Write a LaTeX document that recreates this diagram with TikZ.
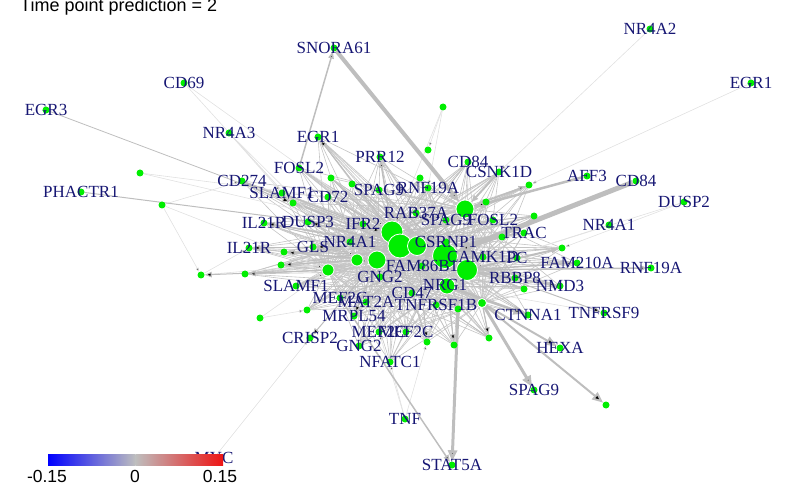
\documentclass[tikz,border=0pt]{standalone}
\usepackage{fontspec}
\setmainfont{Liberation Serif}
\setsansfont{Liberation Sans}
\usetikzlibrary{arrows.meta}
\pgfdeclarelayer{background}
\pgfsetlayers{background,main}
\definecolor{vgreen}{RGB}{0,238,0}
\definecolor{labnavy}{RGB}{22,22,115}
\definecolor{edgegray}{RGB}{190,190,190}
\definecolor{meshgray}{RGB}{196,196,196}
\definecolor{faintgray}{RGB}{225,225,225}
\definecolor{cbblue}{RGB}{0,0,255}
\definecolor{cbgray}{RGB}{190,190,190}
\definecolor{cbred}{RGB}{238,20,20}

\begin{document}
\begin{tikzpicture}[x=1pt,y=-1pt,
  vertex/.style={circle,fill=vgreen,inner sep=0pt,minimum size=7pt},
  hub/.style={circle,fill=vgreen,draw=white,line width=0.8pt,inner sep=0pt},
  lab/.style={text=labnavy,font=\fontsize{17}{17}\selectfont,inner sep=0pt},
  scale lab/.style={font=\sffamily\fontsize{17.5}{17.5}\selectfont,inner sep=0pt,anchor=base},
  mesh/.style={draw=meshgray,line width=0.6pt},
  faint/.style={draw=faintgray,line width=0.6pt,-{Triangle[length=4pt,width=3pt]}},
  link/.style={draw=edgegray,line width=1pt,-{Triangle[length=7pt,width=5.5pt]}},
  heavy/.style={draw=edgegray,line width=3pt,-{Triangle[length=11pt,width=9pt]}}]
\useasboundingbox (0,0) rectangle (800,494);

% hubs
\node[hub,minimum size=18pt] (h_1) at (465,209) {};
\node[hub,minimum size=22pt] (h_2) at (392,232) {};
\node[hub,minimum size=24pt] (h_3) at (400,246) {};
\node[hub,minimum size=19pt] (h_4) at (417,246) {};
\node[hub,minimum size=18pt] (h_5) at (377,260) {};
\node[hub,minimum size=12pt] (h_6) at (357,260) {};
\node[hub,minimum size=12pt] (h_7) at (328,270) {};
\node[hub,minimum size=25pt] (h_8) at (445,256) {};
\node[hub,minimum size=21pt] (h_9) at (467,270) {};
\node[hub,minimum size=16pt] (h_10) at (447,286) {};
\node[hub,minimum size=9pt] (h_11) at (482,303) {};

% labelled vertices
\node[vertex] (v_snora) at (334,48) {};
\node[vertex] (v_cd69) at (184,83) {};
\node[vertex] (v_egr3) at (46,110) {};
\node[vertex] (v_nr4a3) at (229,133) {};
\node[vertex] (v_egr1a) at (318,137) {};
\node[vertex] (v_prr12) at (380,157) {};
\node[vertex] (v_fosl2a) at (299,168) {};
\node[vertex] (v_cd274) at (242,181) {};
\node[vertex] (v_phactr1) at (81,192) {};
\node[vertex] (v_slamf1a) at (282,193) {};
\node[vertex] (v_cd72) at (328,197) {};
\node[vertex] (v_spag9a) at (379,190) {};
\node[vertex] (v_rnf19a) at (428,188) {};
\node[vertex] (v_cd84a) at (468,162) {};
\node[vertex] (v_csnk1d) at (499,172) {};
\node[vertex] (v_aff3) at (587,176) {};
\node[vertex] (v_cd84b) at (636,181) {};
\node[vertex] (v_dusp2) at (684,202) {};
\node[vertex] (v_nr4a2) at (650,29) {};
\node[vertex] (v_egr1b) at (751,83) {};
\node[vertex] (v_nr4a1b) at (609,225) {};
\node[vertex] (v_trac) at (524,233) {};
\node[vertex] (v_fosl2b) at (493,220) {};
\node[vertex] (v_spag9b) at (446,220) {};
\node[vertex] (v_rab37a) at (416,213) {};
\node[vertex] (v_csrnp1) at (446,242) {};
\node[vertex] (v_camk1d) at (483,257) {};
\node[vertex] (v_pc) at (517,258) {};
\node[vertex] (v_fam210a) at (577,263) {};
\node[vertex] (v_rnf19b) at (651,268) {};
\node[vertex] (v_rbbp8) at (515,278) {};
\node[vertex] (v_nmd3) at (560,286) {};
\node[vertex] (v_ctnna1) at (528,315) {};
\node[vertex] (v_tnfrsf9) at (604,313) {};
\node[vertex] (v_hexa) at (560,348) {};
\node[vertex] (v_spag9c) at (534,390) {};
\node[vertex] (v_stat5a) at (452,465) {};
\node[vertex] (v_tnf) at (405,419) {};
\node[vertex] (v_nfatc1) at (390,362) {};
\node[vertex] (v_gng2b) at (359,346) {};
\node[vertex] (v_mef2cb) at (379,332) {};
\node[vertex] (v_mef2cc) at (406,332) {};
\node[vertex] (v_crisp2) at (310,338) {};
\node[vertex] (v_mrpl54) at (354,316) {};
\node[vertex] (v_slamf1b) at (296,286) {};
\node[vertex] (v_mef2ca) at (340,298) {};
\node[vertex] (v_mat2a) at (366,302) {};
\node[vertex] (v_tnfrsf1b) at (436,305) {};
\node[vertex] (v_cd47) at (412,293) {};
\node[vertex] (v_nrg1) at (445,285) {};
\node[vertex] (v_gng2a) at (380,277) {};
\node[vertex] (v_fam86b1) at (422,266) {};
\node[vertex] (v_nr4a1a) at (350,242) {};
\node[vertex] (v_ifr2) at (363,224) {};
\node[vertex] (v_dusp3) at (308,222) {};
\node[vertex] (v_il21ra) at (264,223) {};
\node[vertex] (v_il21rb) at (249,248) {};
\node[vertex] (v_gls) at (313,247) {};
\node[vertex] (v_myc) at (214,458) {};

% unlabelled vertices
\node[vertex] (d_a) at (140,173) {};
\node[vertex] (d_b) at (162,205) {};
\node[vertex] (d_c) at (443,107) {};
\node[vertex] (d_d) at (428,150) {};
\node[vertex] (d_e) at (420,178) {};
\node[vertex] (d_f) at (529,185) {};
\node[vertex] (d_g) at (486,202) {};
\node[vertex] (d_h) at (534,216) {};
\node[vertex] (d_i) at (562,248) {};
\node[vertex] (d_j) at (502,237) {};
\node[vertex] (d_k) at (331,178) {};
\node[vertex] (d_l) at (352,184) {};
\node[vertex] (d_m) at (293,203) {};
\node[vertex] (d_n) at (524,289) {};
\node[vertex] (d_o) at (307,310) {};
\node[vertex] (d_p) at (260,318) {};
\node[vertex] (d_q) at (201,275) {};
\node[vertex] (d_r) at (245,274) {};
\node[vertex] (d_s) at (281,265) {};
\node[vertex] (d_t) at (284,252) {};
\node[vertex] (d_u) at (427,342) {};
\node[vertex] (d_v) at (454,345) {};
\node[vertex] (d_w) at (489,338) {};
\node[vertex] (d_x) at (458,309) {};
\node[vertex] (d_y) at (606,405) {};

\begin{pgfonlayer}{background}
% dense core
\foreach \h in {h_1,h_2,h_3,h_4,h_5,h_6,h_7,h_8,h_9,h_10,h_11}
  \foreach \t in {v_fosl2a,v_cd274,v_slamf1a,v_cd72,v_spag9a,v_rnf19a,v_cd84a,v_csnk1d,
    d_e,d_f,d_g,d_h,d_i,d_j,v_trac,v_fosl2b,v_fam210a,v_rbbp8,v_nmd3,v_ctnna1,d_n,d_x,
    d_u,d_v,d_w,v_mat2a,v_mef2ca,v_slamf1b,d_s,d_t,v_il21ra,v_il21rb,v_gls,v_dusp3,
    v_ifr2,d_k,d_l,d_m,v_prr12,v_egr1a,v_mrpl54,v_mef2cb,v_mef2cc,v_gng2b,v_nfatc1,
    d_r,d_o,v_pc,v_camk1d,v_nr4a1a}
    \draw[mesh] (\h) -- (\t);
% arrows into the core
\foreach \t/\h in {d_e/h_2,d_g/h_4,d_j/h_8,v_fosl2b/h_3,v_trac/h_4,d_h/h_2,v_rbbp8/h_5,
    d_n/h_3,d_t/h_8,d_s/h_4,v_dusp3/h_8,v_gls/h_9,d_k/h_3,d_l/h_8,v_spag9a/h_9,
    v_cd72/h_4,v_slamf1a/h_8,v_cd274/h_3,v_il21ra/h_9,d_m/h_4,v_mat2a/h_1,d_u/h_2,
    d_w/h_5,v_mef2ca/h_8,v_rnf19a/h_5,v_cd84a/h_3}
  \draw[link,line width=0.8pt] (\t) -- (\h);
% faint outer links
\path[faint]
  (v_cd69) edge (d_m) edge (h_2)
  (v_nr4a3) edge (d_m) edge (h_6) edge (v_slamf1a)
  (v_nr4a2) edge (v_csnk1d)
  (v_egr1b) edge (d_f)
  (v_myc) edge (v_crisp2)
  (v_dusp2) edge (h_9) edge (d_i)
  (v_nr4a1b) edge (h_9)
  (v_tnfrsf9) edge (h_10)
  (v_tnf) edge (d_u) edge (v_nfatc1) edge (v_mef2cb)
  (d_c) edge (d_d) edge (h_2) edge (v_rnf19a)
  (d_b) edge (v_cd274) edge (h_7) edge (d_q)
  (d_a) edge (v_cd72) edge (h_2)
  (d_q) edge (h_5) edge (v_il21rb)
  (d_p) edge (h_7) edge (d_o);
% grey links
\path[link]
  (v_egr3) edge[line width=0.8pt] (d_m)
  (v_phactr1) edge (h_2)
  (v_fosl2a) edge[line width=1.5pt] (v_snora)
  (v_csnk1d) edge[line width=2pt] (h_1)
  (h_1) edge[line width=1.5pt] (d_f)
  (h_2) edge[line width=1.5pt] (v_prr12) edge (v_egr1a)
  (h_9) edge[line width=2pt] (d_i) edge[line width=1.5pt] (v_fam210a)
        edge[line width=1.5pt] (v_rnf19b) edge[line width=1.5pt] (v_nmd3)
  (h_8) edge (v_tnfrsf9)
  (h_5) edge (d_t) edge (v_mrpl54) edge (v_crisp2)
  (h_6) edge (d_s)
  (h_7) edge (d_r) edge (d_q)
  (h_3) edge (v_il21ra) edge (v_il21rb) edge (v_gls) edge (v_dusp3)
  (h_4) edge (d_u)
  (h_10) edge (d_v)
  (h_11) edge (d_w)
  (v_mef2ca) edge[line width=1.5pt] (v_stat5a);
% heavy links
\path[heavy]
  (v_snora) edge[line width=4pt] (h_1)
  (v_cd84b) edge[line width=5pt,-{Triangle[length=14pt,width=12pt]}] (h_8)
  (v_aff3) edge[line width=2.5pt] (h_1)
  (h_11) edge (v_spag9c) edge[line width=2pt] (d_y) edge[line width=2pt] (v_hexa)
  (d_x) edge (v_stat5a)
  (h_10) edge[line width=2.5pt] (v_ctnna1);
\end{pgfonlayer}

% labels
\node[lab] (l_snora) at (v_snora) {SNORA61};
\node[lab] (l_cd69) at (v_cd69) {CD69};
\node[lab] (l_egr3) at (v_egr3) {EGR3};
\node[lab] (l_nr4a3) at (v_nr4a3) {NR4A3};
\node[lab] (l_egr1a) at (v_egr1a) {EGR1};
\node[lab] (l_prr12) at (v_prr12) {PRR12};
\node[lab] (l_fosl2a) at (v_fosl2a) {FOSL2};
\node[lab] (l_cd274) at (v_cd274) {CD274};
\node[lab] (l_phactr1) at (v_phactr1) {PHACTR1};
\node[lab] (l_slamf1a) at (v_slamf1a) {SLAMF1};
\node[lab] (l_cd72) at (v_cd72) {CD72};
\node[lab] (l_spag9a) at (v_spag9a) {SPAG9};
\node[lab] (l_rnf19a) at (v_rnf19a) {RNF19A};
\node[lab] (l_cd84a) at (v_cd84a) {CD84};
\node[lab] (l_csnk1d) at (v_csnk1d) {CSNK1D};
\node[lab] (l_aff3) at (v_aff3) {AFF3};
\node[lab] (l_cd84b) at (v_cd84b) {CD84};
\node[lab] (l_dusp2) at (v_dusp2) {DUSP2};
\node[lab] (l_nr4a2) at (v_nr4a2) {NR4A2};
\node[lab] (l_egr1b) at (v_egr1b) {EGR1};
\node[lab] (l_nr4a1b) at (v_nr4a1b) {NR4A1};
\node[lab] (l_trac) at (v_trac) {TRAC};
\node[lab] (l_fosl2b) at (v_fosl2b) {FOSL2};
\node[lab] (l_spag9b) at (v_spag9b) {SPAG9};
\node[lab] (l_rab37a) at (v_rab37a) {RAB37A};
\node[lab] (l_csrnp1) at (v_csrnp1) {CSRNP1};
\node[lab] (l_camk1d) at (v_camk1d) {CAMK1D};
\node[lab] (l_pc) at (v_pc) {PC};
\node[lab] (l_fam210a) at (v_fam210a) {FAM210A};
\node[lab] (l_rnf19b) at (v_rnf19b) {RNF19A};
\node[lab] (l_rbbp8) at (v_rbbp8) {RBBP8};
\node[lab] (l_nmd3) at (v_nmd3) {NMD3};
\node[lab] (l_ctnna1) at (v_ctnna1) {CTNNA1};
\node[lab] (l_tnfrsf9) at (v_tnfrsf9) {TNFRSF9};
\node[lab] (l_hexa) at (v_hexa) {HEXA};
\node[lab] (l_spag9c) at (v_spag9c) {SPAG9};
\node[lab] (l_stat5a) at (v_stat5a) {STAT5A};
\node[lab] (l_tnf) at (v_tnf) {TNF};
\node[lab] (l_nfatc1) at (v_nfatc1) {NFATC1};
\node[lab] (l_gng2b) at (v_gng2b) {GNG2};
\node[lab] (l_mef2cb) at (v_mef2cb) {MEF2C};
\node[lab] (l_mef2cc) at (v_mef2cc) {MEF2C};
\node[lab] (l_crisp2) at (v_crisp2) {CRISP2};
\node[lab] (l_mrpl54) at (v_mrpl54) {MRPL54};
\node[lab] (l_slamf1b) at (v_slamf1b) {SLAMF1};
\node[lab] (l_mef2ca) at (v_mef2ca) {MEF2C};
\node[lab] (l_mat2a) at (v_mat2a) {MAT2A};
\node[lab] (l_tnfrsf1b) at (v_tnfrsf1b) {TNFRSF1B};
\node[lab] (l_cd47) at (v_cd47) {CD47};
\node[lab] (l_nrg1) at (v_nrg1) {NRG1};
\node[lab] (l_gng2a) at (v_gng2a) {GNG2};
\node[lab] (l_fam86b1) at (v_fam86b1) {FAM86B1};
\node[lab] (l_nr4a1a) at (v_nr4a1a) {NR4A1};
\node[lab] (l_ifr2) at (v_ifr2) {IFR2};
\node[lab] (l_dusp3) at (v_dusp3) {DUSP3};
\node[lab] (l_il21ra) at (v_il21ra) {IL21R};
\node[lab] (l_il21rb) at (v_il21rb) {IL21R};
\node[lab] (l_gls) at (v_gls) {GLS};
\node[lab] (l_myc) at (v_myc) {MYC};

% colour scale
\shade[left color=cbblue,right color=cbgray] (48,454) rectangle (135.5,465);
\shade[left color=cbgray,right color=cbred] (135.5,454) rectangle (223,465);
\node[scale lab] (s_low) at (47,482) {-0.15};
\node[scale lab] (s_mid) at (135,482) {0};
\node[scale lab] (s_high) at (220,482) {0.15};

\node[font=\sffamily\fontsize{18}{18}\selectfont,inner sep=0pt,anchor=base west]
  (title) at (20,12) {Time point prediction = 2};
\end{tikzpicture}
\end{document}
